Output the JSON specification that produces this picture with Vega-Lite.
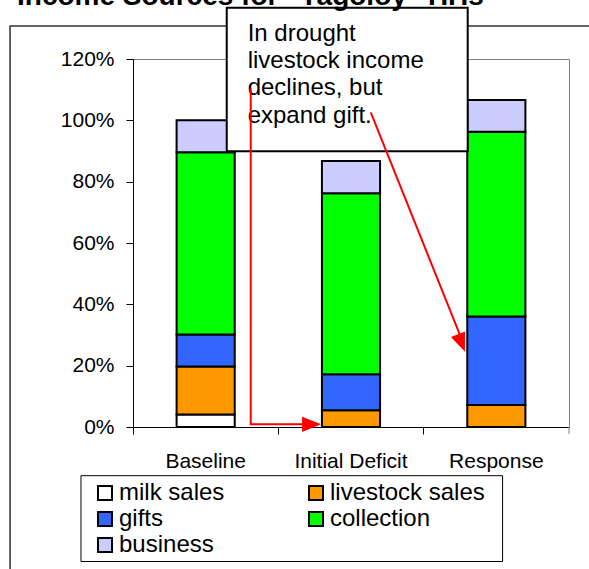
{
  "$schema": "https://vega.github.io/schema/vega-lite/v6.json",
  "width": 436,
  "height": 368,
  "autosize": {"type": "none"},
  "padding": {"left": 133, "top": 59, "right": 20, "bottom": 142},
  "background": "white",
  "config": {
    "font": "Liberation Sans",
    "view": {"stroke": "#808080", "strokeWidth": 1}
  },
  "title": {
    "text": "Income Sources for \"Yagoloy\" HHs",
    "font": "Liberation Sans",
    "fontSize": 28,
    "fontWeight": "bold",
    "color": "#000000",
    "anchor": "start",
    "frame": "group",
    "baseline": "alphabetic",
    "dx": -116,
    "dy": 26,
    "offset": 0
  },
  "layer": [
    {
      "description": "chart area frame",
      "data": {"values": [{"x": -0.846, "x2": 3.3, "y": 1.3076, "y2": -0.6}]},
      "mark": {"type": "rect", "fillOpacity": 0, "stroke": "#333333", "strokeWidth": 1.5},
      "encoding": {
        "x": {"field": "x", "type": "quantitative", "scale": {"domain": [0, 3], "nice": false, "zero": false}, "axis": null},
        "x2": {"field": "x2"},
        "y": {"field": "y", "type": "quantitative", "scale": {"domain": [0, 1.2], "nice": false, "zero": false}, "axis": null},
        "y2": {"field": "y2"}
      }
    },
    {
      "description": "legend frame",
      "data": {"values": [{"x": -0.358, "x2": 2.543, "y": -0.1588, "y2": -0.4386}]},
      "mark": {"type": "rect", "fillOpacity": 0, "stroke": "#000000", "strokeWidth": 1},
      "encoding": {
        "x": {"field": "x", "type": "quantitative", "scale": {"domain": [0, 3], "nice": false, "zero": false}, "axis": null},
        "x2": {"field": "x2"},
        "y": {"field": "y", "type": "quantitative", "scale": {"domain": [0, 1.2], "nice": false, "zero": false}, "axis": null},
        "y2": {"field": "y2"}
      }
    },
    {
      "description": "stacked income shares",
      "data": {
        "values": [
          {"scenario": "Baseline", "source": "milk sales", "share": 0.041},
          {"scenario": "Baseline", "source": "livestock sales", "share": 0.156},
          {"scenario": "Baseline", "source": "gifts", "share": 0.105},
          {"scenario": "Baseline", "source": "collection", "share": 0.594},
          {"scenario": "Baseline", "source": "business", "share": 0.104},
          {"scenario": "Initial Deficit", "source": "milk sales", "share": 0.0},
          {"scenario": "Initial Deficit", "source": "livestock sales", "share": 0.055},
          {"scenario": "Initial Deficit", "source": "gifts", "share": 0.117},
          {"scenario": "Initial Deficit", "source": "collection", "share": 0.590},
          {"scenario": "Initial Deficit", "source": "business", "share": 0.105},
          {"scenario": "Response", "source": "milk sales", "share": 0.0},
          {"scenario": "Response", "source": "livestock sales", "share": 0.072},
          {"scenario": "Response", "source": "gifts", "share": 0.288},
          {"scenario": "Response", "source": "collection", "share": 0.603},
          {"scenario": "Response", "source": "business", "share": 0.103}
        ]
      },
      "transform": [
        {"calculate": "indexof(['milk sales', 'livestock sales', 'gifts', 'collection', 'business'], datum.source)", "as": "stackOrder"}
      ],
      "mark": {"type": "bar", "width": {"band": 0.4}, "stroke": "#000000", "strokeWidth": 2},
      "encoding": {
        "x": {
          "field": "scenario",
          "type": "nominal",
          "sort": ["Baseline", "Initial Deficit", "Response"],
          "scale": {"paddingInner": 0, "paddingOuter": 0},
          "axis": {
            "title": null,
            "labelAngle": 0,
            "labelFont": "Liberation Sans",
            "labelFontSize": 21,
            "labelColor": "#000000",
            "labelPadding": 16,
            "bandPosition": 0,
            "tickSize": 7,
            "tickColor": "#000000",
            "domainColor": "#000000",
            "grid": false
          }
        },
        "y": {
          "field": "share",
          "type": "quantitative",
          "stack": "zero",
          "scale": {"domain": [0, 1.2], "nice": false},
          "axis": {
            "title": null,
            "values": [0, 0.2, 0.4, 0.6, 0.8, 1.0, 1.2],
            "format": ".0%",
            "labelFont": "Liberation Sans",
            "labelFontSize": 21,
            "labelColor": "#000000",
            "labelPadding": 12,
            "tickSize": 7,
            "tickColor": "#000000",
            "domainColor": "#000000",
            "gridColor": "#555555",
            "gridWidth": 1
          }
        },
        "color": {
          "field": "source",
          "type": "nominal",
          "scale": {
            "domain": ["milk sales", "livestock sales", "gifts", "collection", "business"],
            "range": ["#FFFFFF", "#FF9900", "#3366FF", "#00FF00", "#CCCCFF"]
          },
          "legend": {
            "title": null,
            "orient": "none",
            "direction": "horizontal",
            "legendX": -52,
            "legendY": 417,
            "columns": 2,
            "columnPadding": 72,
            "rowPadding": 2,
            "padding": 5,
            "symbolOffset": 7,
            "symbolType": "square",
            "symbolSize": 196,
            "symbolStrokeColor": "#000000",
            "symbolStrokeWidth": 2,
            "symbolOpacity": 1,
            "labelFont": "Liberation Sans",
            "labelFontSize": 24,
            "labelColor": "#000000",
            "labelOffset": 2,
            "labelLimit": 300
          }
        },
        "order": {"field": "stackOrder", "type": "quantitative"}
      }
    },
    {
      "description": "callout box",
      "data": {"values": [{"x": 0.645, "x2": 2.303, "y": 1.367, "y2": 0.899}]},
      "mark": {"type": "rect", "fill": "#FFFFFF", "stroke": "#000000", "strokeWidth": 2},
      "encoding": {
        "x": {"field": "x", "type": "quantitative", "scale": {"domain": [0, 3], "nice": false, "zero": false}, "axis": null},
        "x2": {"field": "x2"},
        "y": {"field": "y", "type": "quantitative", "scale": {"domain": [0, 1.2], "nice": false, "zero": false}, "axis": null},
        "y2": {"field": "y2"}
      }
    },
    {
      "description": "callout text",
      "data": {"values": [{"x": 0.789, "y": 1.2597, "note": "In drought\nlivestock income\ndeclines, but\nexpand gift."}]},
      "mark": {
        "type": "text",
        "align": "left",
        "baseline": "alphabetic",
        "lineBreak": "\n",
        "lineHeight": 27.3,
        "font": "Liberation Sans",
        "fontSize": 24,
        "color": "#000000"
      },
      "encoding": {
        "x": {"field": "x", "type": "quantitative", "scale": {"domain": [0, 3], "nice": false, "zero": false}, "axis": null},
        "y": {"field": "y", "type": "quantitative", "scale": {"domain": [0, 1.2], "nice": false, "zero": false}, "axis": null},
        "text": {"field": "note"}
      }
    },
    {
      "description": "arrow shafts",
      "data": {
        "values": [
          {"arrow": "livestock", "step": 1, "x": 0.810, "y": 1.105},
          {"arrow": "livestock", "step": 2, "x": 0.810, "y": 0.0088},
          {"arrow": "livestock", "step": 3, "x": 1.28, "y": 0.0088},
          {"arrow": "gift", "step": 1, "x": 1.636, "y": 1.026},
          {"arrow": "gift", "step": 2, "x": 2.275, "y": 0.27}
        ]
      },
      "mark": {"type": "line", "color": "#FF0000", "strokeWidth": 2, "interpolate": "linear"},
      "encoding": {
        "x": {"field": "x", "type": "quantitative", "scale": {"domain": [0, 3], "nice": false, "zero": false}, "axis": null},
        "y": {"field": "y", "type": "quantitative", "scale": {"domain": [0, 1.2], "nice": false, "zero": false}, "axis": null},
        "detail": {"field": "arrow"},
        "order": {"field": "step", "type": "quantitative"}
      }
    },
    {
      "description": "arrowhead pointing at the Initial Deficit livestock sales",
      "data": {"values": [{"x": 1.294, "y": 0.0088}]},
      "mark": {"type": "point", "shape": "M0,0L-1,-0.4L-1,0.4Z", "size": 1444, "filled": true, "fill": "#FF0000", "strokeWidth": 0, "opacity": 1, "angle": 0},
      "encoding": {
        "x": {"field": "x", "type": "quantitative", "scale": {"domain": [0, 3], "nice": false, "zero": false}, "axis": null},
        "y": {"field": "y", "type": "quantitative", "scale": {"domain": [0, 1.2], "nice": false, "zero": false}, "axis": null}
      }
    },
    {
      "description": "arrowhead pointing at the Response gifts",
      "data": {"values": [{"x": 2.284, "y": 0.245}]},
      "mark": {"type": "point", "shape": "M0,0L-1,-0.4L-1,0.4Z", "size": 1444, "filled": true, "fill": "#FF0000", "strokeWidth": 0, "opacity": 1, "angle": 68.5},
      "encoding": {
        "x": {"field": "x", "type": "quantitative", "scale": {"domain": [0, 3], "nice": false, "zero": false}, "axis": null},
        "y": {"field": "y", "type": "quantitative", "scale": {"domain": [0, 1.2], "nice": false, "zero": false}, "axis": null}
      }
    },
    {
      "description": "closing tick at the right end of the category axis",
      "data": {"values": [{"x": 3, "y": 0, "y2": -0.0228}]},
      "mark": {"type": "rule", "color": "#808080", "strokeWidth": 1},
      "encoding": {
        "x": {"field": "x", "type": "quantitative", "scale": {"domain": [0, 3], "nice": false, "zero": false}, "axis": null},
        "y": {"field": "y", "type": "quantitative", "scale": {"domain": [0, 1.2], "nice": false, "zero": false}, "axis": null},
        "y2": {"field": "y2"}
      }
    }
  ],
  "resolve": {"scale": {"x": "independent", "y": "independent"}}
}
